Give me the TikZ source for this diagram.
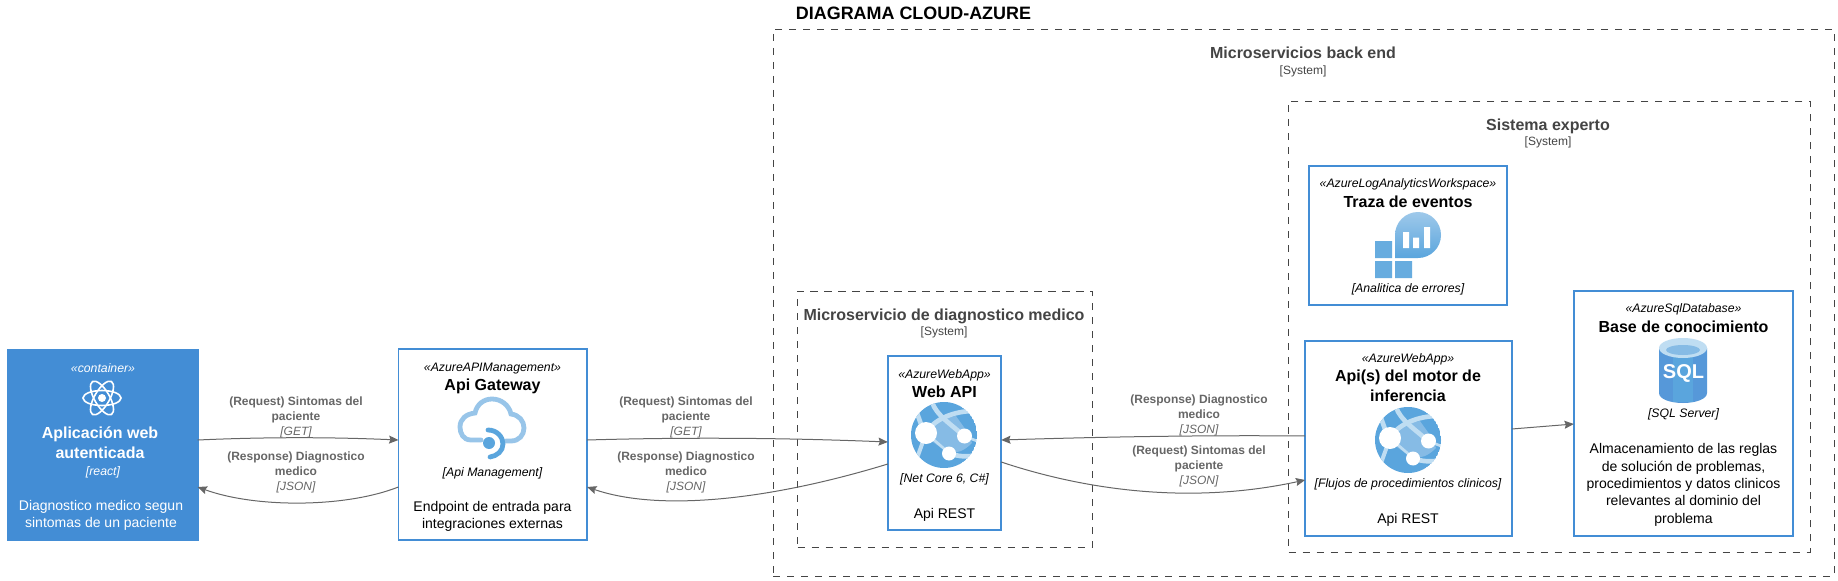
\documentclass[tikz,border=0pt]{standalone}
\usepackage{fontspec}
\setmainfont{Liberation Sans}
\usetikzlibrary{arrows.meta}

\definecolor{azblue}{HTML}{438DD5}
\definecolor{bndgray}{HTML}{444444}
\definecolor{relgray}{HTML}{666666}
\definecolor{icondark}{HTML}{5AA5DD}
\definecolor{iconmid}{HTML}{86BBE5}
\definecolor{iconlight}{HTML}{BFDDF2}

\tikzset{
  txt/.style={inner sep=0pt,outer sep=0pt,align=center,text height=1.45ex,text depth=.4ex},
  azbox/.style={draw=azblue,line width=1.35pt,fill=white,inner sep=0pt,outer sep=0pt},
  contbox/.style={azbox,fill=azblue},
  bndbox/.style={draw=bndgray,line width=.65pt,dash pattern=on 5.5pt off 5pt,inner sep=0pt,outer sep=0pt},
  stereo/.style={txt,font=\fontsize{9.2}{11}\selectfont\itshape},
  ctitle/.style={txt,font=\fontsize{12}{15}\selectfont\bfseries},
  ctech/.style={txt,font=\fontsize{9.2}{11}\selectfont\itshape},
  cdesc/.style={inner sep=0pt,outer sep=0pt,align=center,font=\fontsize{10.5}{13}\selectfont},
  bndtitle/.style={txt,text=bndgray,font=\fontsize{12}{15}\selectfont\bfseries},
  bndsys/.style={txt,text=bndgray,font=\fontsize{9}{11}\selectfont},
  rellabel/.style={inner sep=0pt,outer sep=0pt,align=center,text=relgray,font=\fontsize{9}{11.25}\selectfont\bfseries},
  rel/.style={draw=relgray,line width=.75pt,-{Stealth[length=7pt,width=6pt,inset=1pt]}},
  pics/webglobe/.style={code={
    \begin{scope}
      \clip (0,0) circle [radius=33];
      \fill[icondark] (0,0) circle [radius=33];
      \fill[iconmid] (-16,-6) .. controls (-6,-14) and (4,-18) .. (12,-19) .. controls (18,-10) and (24,-4) .. (28,8) .. controls (20,16) and (14,18) .. (5,18) .. controls (-4,12) and (-14,6) .. (-18,0) -- cycle;
      \draw[iconlight,line width=3.5pt] (-12,-33) .. controls (-8,-20) and (8,-10) .. (20,1);
      \draw[iconlight,line width=3.5pt] (-18,-2) .. controls (-10,-16) and (10,-24) .. (30,-24);
      \draw[iconlight,line width=3.5pt] (-27,-22) -- (-22,-8);
      \draw[iconlight,line width=2pt] (-18,-2) -- (5,18);
      \draw[iconlight,line width=3.5pt] (5,18) .. controls (14,22) and (24,22) .. (33,20);
      \draw[iconlight,line width=3pt] (-18,-2) -- (-28,26);
      \draw[iconlight,line width=2pt] (20,1) -- (33,6);
    \end{scope}
    \fill[white] (-18,-2) circle [radius=11];
    \fill[white] (20.5,1) circle [radius=7.5];
    \fill[white] (5,18.5) circle [radius=7];
  }}
}

\begin{document}
\begin{tikzpicture}[x=0.75pt,y=-0.75pt]
\useasboundingbox (0,0) rectangle (1838,581);

%Boundaries
\node[bndbox,minimum width=795.75pt,minimum height=410.25pt] (backend) at (1303.5,302.5) {};
\node[bndbox,minimum width=391.1pt,minimum height=338.25pt] (experto) at (1549.25,326.5) {};
\node[bndbox,minimum width=221.25pt,minimum height=192pt] (diagnostico) at (945,419) {};

%Containers
\node[contbox,minimum width=142pt,minimum height=142.75pt] (webclient) at (103,445) {};
\node[azbox,minimum width=141.5pt,minimum height=143.25pt] (gateway) at (492.75,444.5) {};
\node[azbox,minimum width=85pt,minimum height=130.75pt] (webapi) at (944.5,443) {};
\node[azbox,minimum width=148.75pt,minimum height=104.25pt] (traza) at (1408,235.4) {};
\node[azbox,minimum width=155pt,minimum height=146.25pt] (motor) at (1408.5,438.4) {};
\node[azbox,minimum width=164.5pt,minimum height=183.75pt] (basedatos) at (1683.5,413.4) {};

%Curve Lines
\draw[rel] (webclient.east |- 0,440) .. controls (265,437) and (330,437) .. (gateway.west |- 0,440);
\draw[rel] (gateway.west |- 0,487) .. controls (345,508) and (255,508) .. (webclient.east |- 0,487);
\draw[rel] (gateway.east |- 0,440) .. controls (690,437) and (790,438) .. (webapi.west |- 0,442);
\draw[rel] (webapi.west |- 0,464) .. controls (770,500) and (660,512) .. (gateway.east |- 0,487);
\draw[rel] (motor.west |- 0,436) .. controls (1200,435) and (1100,437) .. (webapi.east |- 0,440);
\draw[rel] (webapi.east |- 0,462) .. controls (1085,490) and (1190,505) .. (motor.west |- 0,480);
\draw[rel] (motor.east |- 0,429) -- (basedatos.west |- 0,424);

% Text Node
\node[txt,font=\fontsize{13.45}{16}\selectfont\bfseries] (diagtitle) at (913.5,15.5) {DIAGRAMA CLOUD-AZURE};
\node[bndtitle] (backendName) at (1303,55) {Microservicios back end};
\node[bndsys] (backendSys) at (1303,70.5) {[System]};
\node[bndtitle] (expertoName) at (1548,126.5) {Sistema experto};
\node[bndsys] (expertoSys) at (1548,142) {[System]};
\node[bndtitle] (diagnosticoName) at (944,317) {Microservicio de diagnostico medico};
\node[bndsys] (diagnosticoSys) at (944,332) {[System]};

% Web client
\node[stereo,text=white] (webclientType) at (103,368.5) {«container»};
\begin{scope}[white,line width=1.2pt]
  \foreach \ang in {0,60,120}
    \draw[rotate around={\ang:(102,398)}] (102,398) ellipse [x radius=19,y radius=7.5];
\end{scope}
\fill[white] (102,398) circle [radius=4];
\node[ctitle,text=white,text height=,text depth=] (webclientName) at (100,443) {Aplicación web\\autenticada};
\node[ctech,text=white] (webclientTech) at (103,471.5) {[react]};
\node[cdesc,text=white] (webclientDesc) at (101,515.5) {Diagnostico medico segun\\sintomas de un paciente};

% Api Gateway
\node[stereo] (gatewayType) at (492.5,367.5) {«AzureAPIManagement»};
\node[ctitle] (gatewayName) at (492.5,387) {Api Gateway};
\draw[iconmid!85,line width=3.6pt,line cap=round] (481,440) -- (471,440) .. controls (463,440) and (460,433) .. (460,427) .. controls (460,419) and (466,414) .. (475,413) .. controls (477,404) and (484,399) .. (492,399) .. controls (501,399) and (509,405) .. (511,414) .. controls (519,415) and (524,421) .. (524,428) .. controls (524,435) and (519,441) .. (511,441) -- (506,441);
\draw[icondark,line width=3.6pt,line cap=round] (488,430) .. controls (497,430) and (503,437) .. (503,444) .. controls (503,451) and (497,456) .. (490,457);
\fill[icondark] (489,443) circle [radius=6];
\node[ctech] (gatewayTech) at (492.5,472.5) {[Api Management]};
\node[cdesc] (gatewayDesc) at (492.5,516.5) {Endpoint de entrada para\\integraciones externas};

% Web API
\node[stereo] (webapiType) at (944.5,374.5) {«AzureWebApp»};
\node[ctitle] (webapiName) at (944.5,394) {Web API};
\pic (webapiIcon) at (944,435) {webglobe};
\node[ctech] (webapiTech) at (944.5,479) {[Net Core 6, C\#]};
\node[cdesc] (webapiDesc) at (944.5,515) {Api REST};

% Traza de eventos
\node[stereo] (trazaType) at (1408,184) {«AzureLogAnalyticsWorkspace»};
\node[ctitle] (trazaName) at (1408,203.5) {Traza de eventos};
\shade[top color=iconmid!80,bottom color=icondark] (1395,258) -- (1395,235) arc [start angle=180,end angle=450,radius=23] -- cycle;
\fill[white] (1403,232) rectangle (1409,248) (1413,237.5) rectangle (1419,248) (1424,227) rectangle (1430,248);
\fill[icondark!70!iconmid] (1375,241) rectangle (1392,258) (1375,261) rectangle (1392,278) (1395,261) rectangle (1412,278);
\node[ctech] (trazaTech) at (1408,288.5) {[Analitica de errores]};

% Motor de inferencia
\node[stereo] (motorType) at (1408,359) {«AzureWebApp»};
\node[ctitle,text height=,text depth=] (motorName) at (1408,386) {Api(s) del motor de\\inferencia};
\pic (motorIcon) at (1408,440) {webglobe};
\node[ctech] (motorTech) at (1408,484) {[Flujos de procedimientos clinicos]};
\node[cdesc] (motorDesc) at (1408,520) {Api REST};

% Base de conocimiento
\node[stereo] (baseType) at (1683.5,309) {«AzureSqlDatabase»};
\node[ctitle] (baseName) at (1683.5,329) {Base de conocimiento};
\fill[azblue!90!white] (1659,348) -- (1659,393) .. controls (1659,399) and (1670,403) .. (1683,403) .. controls (1696,403) and (1707,399) .. (1707,393) -- (1707,348) -- cycle;
\fill[icondark] (1673,348) rectangle (1693,402);
\fill[iconlight] (1683,348) ellipse [x radius=24,y radius=10];
\fill[iconmid] (1683,350) ellipse [x radius=17,y radius=5];
\node[txt,text=white,font=\fontsize{15}{18}\selectfont\bfseries] (baseSql) at (1683.5,375) {SQL};
\node[ctech] (baseTech) at (1683.5,414) {[SQL Server]};
\node[cdesc] (baseDesc) at (1683.5,485) {Almacenamiento de las reglas\\de solución de problemas,\\procedimientos y datos clinicos\\relevantes al dominio del\\problema};

% Relation labels
\node[rellabel] (reqGateway) at (296,417) {(Request) Sintomas del\\paciente\\{\mdseries\itshape [GET]}};
\node[rellabel] (respClient) at (296,472.5) {(Response) Diagnostico\\medico\\{\mdseries\itshape [JSON]}};
\node[rellabel] (reqWebapi) at (686,417) {(Request) Sintomas del\\paciente\\{\mdseries\itshape [GET]}};
\node[rellabel] (respGateway) at (686,472.5) {(Response) Diagnostico\\medico\\{\mdseries\itshape [JSON]}};
\node[rellabel] (respWebapi) at (1199,415) {(Response) Diagnostico\\medico\\{\mdseries\itshape [JSON]}};
\node[rellabel] (reqMotor) at (1199,466) {(Request) Sintomas del\\paciente\\{\mdseries\itshape [JSON]}};

\end{tikzpicture}
\end{document}
